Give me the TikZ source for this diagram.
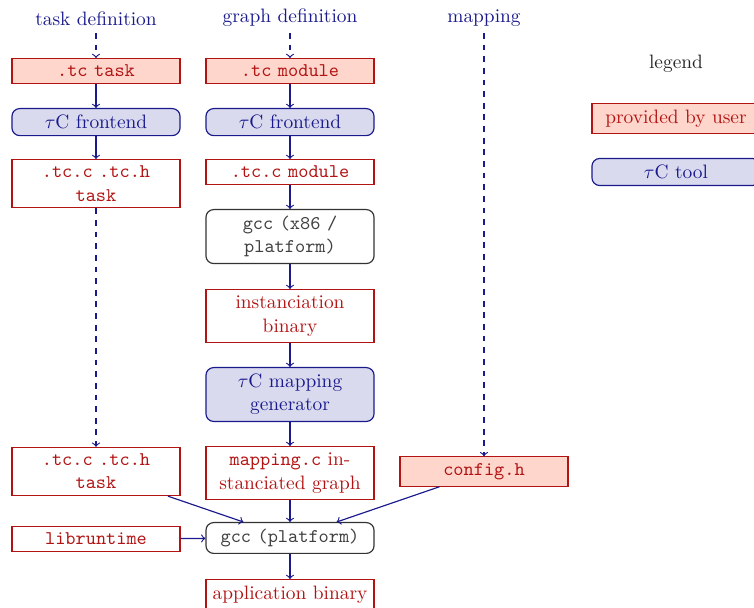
\documentclass[tikz,border=0pt]{standalone}
\usetikzlibrary{positioning}
\definecolor{ured}{RGB}{178,20,20}
\definecolor{ufill}{RGB}{255,214,204}
\definecolor{tblue}{RGB}{26,26,140}
\definecolor{tfill}{RGB}{217,218,238}
\begin{document}
\begin{tikzpicture}[x=0.5155pt,y=-0.5155pt, node distance=0.45cm and 0.45cm,
  box/.style={draw, semithick, text width=80pt, align=center, inner sep=3.333pt},
  user/.style={box, draw=ured, text=ured},
  userin/.style={user, fill=ufill},
  tool/.style={box, draw=tblue, fill=tfill, text=tblue, rounded corners=4pt},
  gccbox/.style={box, draw=black!80, text=black!75, rounded corners=4pt},
  lbl/.style={text=tblue},
  arr/.style={->, semithick, draw=tblue},
  darr/.style={arr, dashed}]
\useasboundingbox (0,0) rectangle (754,608);
% column 2
\node[userin, anchor=north] (tcm) at (290,58) {\texttt{.tc module}};
\node[tool, anchor=north] (fe2) at (290,108) {$\tau$C frontend};
\node[user, anchor=north] (tccm) at (290,159) {\texttt{.tc.c module}};
\node[gccbox, anchor=north] (gccx) at (290,209) {\texttt{gcc (x86 / platform)}};
\node[user, anchor=north] (inst) at (290,289) {instanciation binary};
\node[tool, anchor=north] (mgen) at (290,367) {$\tau$C mapping generator};
\node[user, anchor=north] (mapc) at (290,446) {\texttt{mapping.c} instanciated graph};
\node[gccbox] (gccp) at (290,538) {\texttt{gcc (platform)}};
\node[user, anchor=north] (app) at (290,579) {application binary};
% column 1
\node[userin, anchor=north] (tcask) at (96,58) {\texttt{.tc task}};
\node[tool, anchor=north] (fe1) at (96,108) {$\tau$C frontend};
\node[user, anchor=north] (tch1) at (96,159) {\texttt{.tc.c .tc.h}\\\texttt{task}};
\node[user] (tch2) at (96,471.5) {\texttt{.tc.c .tc.h}\\\texttt{task}};
\node[user] (libr) at (96,539) {\texttt{libruntime}};
% column 3
\node[userin] (cfg) at (484,471.5) {\texttt{config.h}};
% labels
\node[lbl, anchor=south] (tdef) at (96,33) {task definition};
\node[lbl, anchor=south] (gdef) at (290,33) {graph definition};
\node[lbl, anchor=south] (mdef) at (484,33) {mapping};
% legend
\node[anchor=base, text=black!85] (leg) at (676,69) {legend};
\node[userin] (lprov) at (676,118.5) {provided by user};
\node[tool] (ltool) at (676,172) {$\tau$C tool};
% connectors
\draw[darr] (tdef) -- (tcask);
\draw[darr] (gdef) -- (tcm);
\draw[darr] (mdef) -- (cfg);
\draw[arr] (tcask) -- (fe1);
\draw[arr] (fe1) -- (tch1);
\draw[darr] (tch1) -- (tch2);
\draw[arr] (tcm) -- (fe2);
\draw[arr] (fe2) -- (tccm);
\draw[arr] (tccm) -- (gccx);
\draw[arr] (gccx) -- (inst);
\draw[arr] (inst) -- (mgen);
\draw[arr] (mgen) -- (mapc);
\draw[arr] (mapc) -- (gccp);
\draw[arr] (tch2) -- (gccp);
\draw[arr] (cfg) -- (gccp);
\draw[arr] (libr) -- (gccp);
\draw[arr] (gccp) -- (app);
\end{tikzpicture}
\end{document}
